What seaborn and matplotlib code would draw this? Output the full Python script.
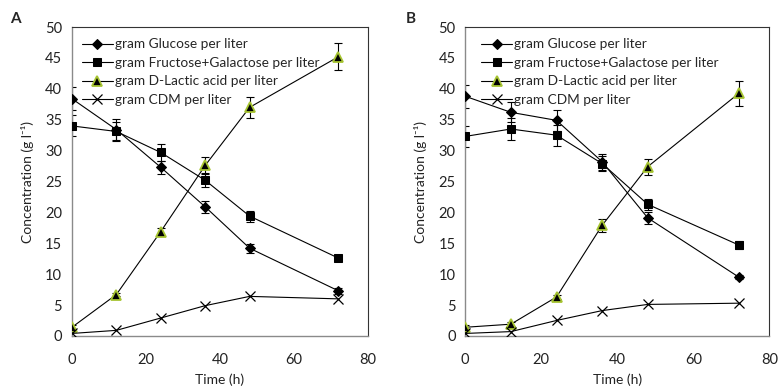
import numpy as np
import pandas as pd
import matplotlib
matplotlib.use("Agg")
import matplotlib.pyplot as plt
import seaborn as sns

sns.set_style("white")
plt.rcParams["font.family"] = ["Lato", "DejaVu Sans"]

time_h = [0, 12, 24, 36, 48, 72]

# Panel A
glucose_a = [38.4, 33.4, 27.3, 20.9, 14.2, 7.3]
glucose_a_err = [1.9, 1.7, 1.1, 1.0, 0.7, 0.5]
fructgal_a = [34.0, 33.1, 29.7, 25.2, 19.4, 12.6]
fructgal_a_err = [1.7, 1.6, 1.4, 1.1, 0.9, 0.4]
lactic_a = [1.4, 6.7, 16.9, 27.6, 37.0, 45.2]
lactic_a_err = [0.4, 0.3, 0.6, 1.4, 1.7, 2.2]
cdm_a = [0.4, 0.9, 2.9, 4.9, 6.4, 6.0]

# Panel B
glucose_b = [38.8, 36.2, 34.9, 28.2, 19.1, 9.5]
glucose_b_err = [1.9, 1.6, 1.7, 1.3, 0.9, 0.3]
fructgal_b = [32.3, 33.5, 32.5, 27.9, 21.3, 14.7]
fructgal_b_err = [1.7, 1.8, 1.7, 1.2, 0.9, 0.7]
lactic_b = [1.4, 1.9, 6.3, 17.9, 27.4, 39.3]
lactic_b_err = [0.3, 0.3, 0.4, 1.0, 1.3, 2.0]
cdm_b = [0.4, 0.7, 2.5, 4.1, 5.1, 5.3]

labels = ["gram Glucose per liter", "gram Fructose+Galactose per liter",
          "gram D-Lactic acid per liter", "gram CDM per liter"]
panel_titles = ["A", "B"]

styles = [
    dict(marker="D", markersize=5.5, markerfacecolor="black", markeredgecolor="black"),
    dict(marker="s", markersize=5.5, markerfacecolor="black", markeredgecolor="black"),
    dict(marker="^", markersize=7, markerfacecolor="black", markeredgecolor="#a6c431",
         markeredgewidth=1.3),
    dict(marker="x", markersize=7, markeredgewidth=0.9, markeredgecolor="black"),
]

panels = [
    ([glucose_a, fructgal_a, lactic_a, cdm_a],
     [glucose_a_err, fructgal_a_err, lactic_a_err, None]),
    ([glucose_b, fructgal_b, lactic_b, cdm_b],
     [glucose_b_err, fructgal_b_err, lactic_b_err, None]),
]

fig = plt.figure(figsize=(7.78, 3.87), dpi=100)
axes = [fig.add_axes([0.0925, 0.132, 0.3805, 0.798]),
        fig.add_axes([0.598, 0.132, 0.391, 0.798])]
legend_x = [0.005, 0.025]
letter_x = [15, 411]

for i, (ax, (series, errs), title) in enumerate(zip(axes, panels, panel_titles)):
    for vals, err, lab, st in zip(series, errs, labels, styles):
        df = pd.DataFrame({"time": time_h, "value": vals})
        if err is not None:
            ax.errorbar(time_h, vals, yerr=err, fmt="none", ecolor="black",
                        elinewidth=0.8, capsize=3, capthick=0.8, zorder=2)
        sns.lineplot(data=df, x="time", y="value", ax=ax, color="black",
                     linewidth=0.8, label=lab, zorder=3, **st)
    ax.set_xlim(0, 80)
    ax.set_ylim(0, 50)
    ax.set_xticks(range(0, 81, 20))
    ax.set_yticks(range(0, 51, 5))
    ax.tick_params(axis="y", length=0, labelsize=10.5, colors="#222222", pad=7)
    ax.tick_params(axis="x", length=0, labelsize=10.5, colors="#222222", pad=12)
    ax.set_xlabel("Time (h)", fontsize=10, color="#222222", labelpad=5)
    ax.set_ylabel("Concentration (g l\u207b\u00b9)", fontsize=10, color="#222222",
                  labelpad=8)
    for side in ["left", "bottom"]:
        ax.spines[side].set_color("#8a8a8a")
        ax.spines[side].set_linewidth(1.0)
    for side in ["top", "right"]:
        ax.spines[side].set_color("#333333")
        ax.spines[side].set_linewidth(0.8)
    ax.legend(loc="upper left", frameon=False, fontsize=9.8,
              handlelength=2.3, handletextpad=0.15, labelspacing=0.48,
              borderaxespad=0.2, bbox_to_anchor=(legend_x[i], 0.99))
    fig.text(letter_x[i] / 778, 1 - 19 / 387, title, fontsize=11,
             fontweight="bold", va="center", ha="center")

fig.savefig("out.png", dpi=100)
